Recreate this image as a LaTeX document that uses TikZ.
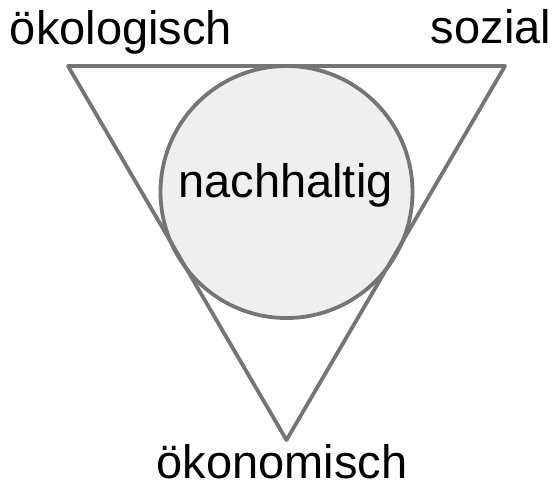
\documentclass[tikz,border=0pt]{standalone}
\usepackage{fontspec}
\setmainfont{Liberation Sans}
\definecolor{edgegray}{HTML}{757575}
\definecolor{discfill}{HTML}{EFEFEF}
\tikzset{
  label text/.style={anchor=base, inner sep=0pt, font=\fontsize{47}{56}\selectfont, text=black},
  edge line/.style={draw=edgegray, line width=3.8pt, line join=round},
}
\begin{document}
\begin{tikzpicture}[x=1pt, y=-1pt]
  \useasboundingbox (0,0) rectangle (553,488);
  % corners of the triangle
  \coordinate (tl) at (68,66);
  \coordinate (tr) at (505,66);
  \coordinate (bt) at (286.5,440);
  % inscribed circle
  \node[circle, edge line, fill=discfill, minimum size=252pt, inner sep=0pt] (core) at (286.5,192) {};
  \draw[edge line] (tl) -- (tr) -- (bt) -- cycle;
  \node[label text] (eco) at (121,44) {ökologisch};
  \node[label text] (soc) at (491,43) {sozial};
  \node[label text] (sus) at (285.5,197) {nachhaltig};
  \node[label text] (econ) at (282,478) {ökonomisch};
\end{tikzpicture}
\end{document}
